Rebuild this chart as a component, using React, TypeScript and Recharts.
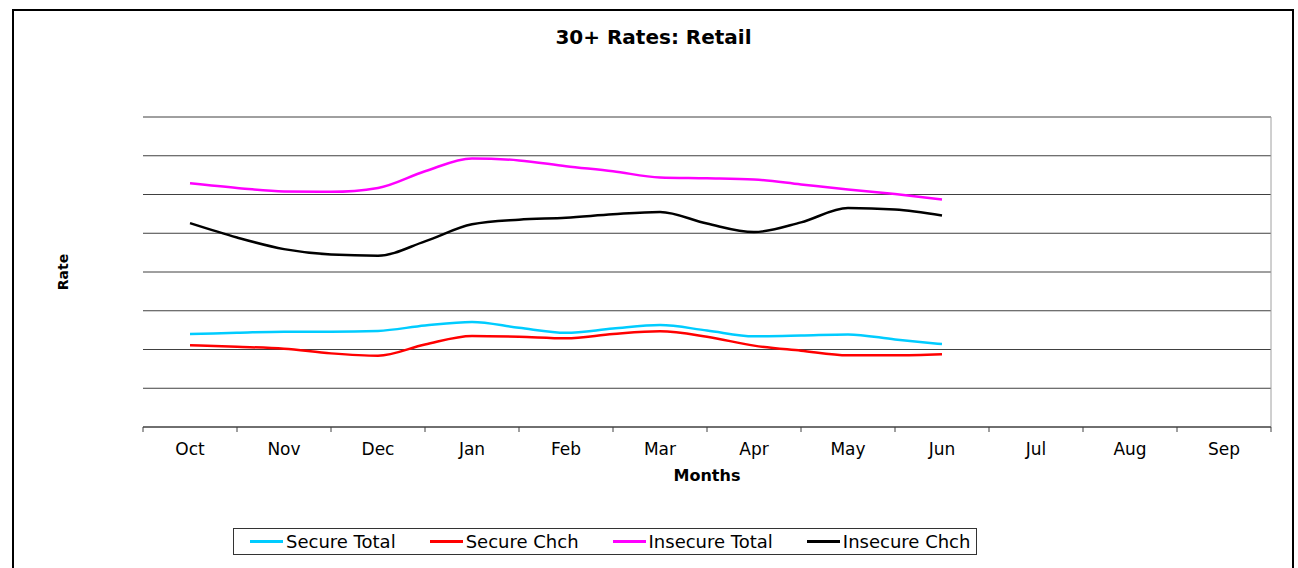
import React from 'react';
import {
  LineChart,
  Line,
  XAxis,
  YAxis,
  CartesianGrid,
  ReferenceLine,
} from 'recharts';

// month categories along the x axis
const months = ['Oct', 'Nov', 'Dec', 'Jan', 'Feb', 'Mar', 'Apr', 'May', 'Jun', 'Jul', 'Aug', 'Sep'];

// readings are taken twice a month: Oct (0.5) up to Jun (8.5)
const periods = [0.5, 1, 1.5, 2, 2.5, 3, 3.5, 4, 4.5, 5, 5.5, 6, 6.5, 7, 7.5, 8, 8.5];

const secureTotal = [2.40, 2.43, 2.46, 2.46, 2.48, 2.62, 2.71, 2.56, 2.43, 2.54, 2.63, 2.49, 2.34, 2.36, 2.39, 2.26, 2.14];
const secureChch = [2.11, 2.07, 2.02, 1.90, 1.84, 2.13, 2.35, 2.33, 2.29, 2.40, 2.47, 2.33, 2.10, 1.97, 1.85, 1.85, 1.88];
const insecureTotal = [6.29, 6.17, 6.08, 6.07, 6.17, 6.60, 6.93, 6.88, 6.73, 6.60, 6.44, 6.42, 6.39, 6.26, 6.13, 6.01, 5.87];
const insecureChch = [5.26, 4.89, 4.59, 4.45, 4.42, 4.79, 5.23, 5.35, 5.40, 5.49, 5.55, 5.25, 5.03, 5.28, 5.65, 5.61, 5.46];

const monthTicks = [0, 1, 2, 3, 4, 5, 6, 7, 8, 9, 10, 11, 12];
const labelTicks = [0.5, 1.5, 2.5, 3.5, 4.5, 5.5, 6.5, 7.5, 8.5, 9.5, 10.5, 11.5];
const rateTicks = [0, 1, 2, 3, 4, 5, 6, 7, 8];

const series = [
  { key: 'secureTotal', name: 'Secure Total', color: '#00ccff' },
  { key: 'secureChch', name: 'Secure Chch', color: '#ff0000' },
  { key: 'insecureTotal', name: 'Insecure Total', color: '#ff00ff' },
  { key: 'insecureChch', name: 'Insecure Chch', color: '#000000' },
];

const data = periods.map((p, i) => ({
  period: p,
  secureTotal: secureTotal[i],
  secureChch: secureChch[i],
  insecureTotal: insecureTotal[i],
  insecureChch: insecureChch[i],
}));

const FONT = '"DejaVu Sans", Verdana, sans-serif';

function ChartLegend() {
  return (
    <div
      style={{
        position: 'absolute',
        left: 233,
        top: 528,
        width: 744,
        height: 27,
        border: '1px solid #333',
        display: 'flex',
        alignItems: 'center',
        paddingLeft: 16,
        boxSizing: 'border-box',
        fontFamily: FONT,
        fontSize: 18,
        color: '#000',
        whiteSpace: 'nowrap',
        overflow: 'hidden',
      }}
    >
      {series.map((s, i) => (
        <div
          key={s.key}
          style={{ display: 'flex', alignItems: 'center', flexShrink: 0, marginLeft: i === 0 ? 0 : 34 }}
        >
          <span style={{ display: 'inline-block', width: 33, height: 3, background: s.color, marginRight: 3 }} />
          <span style={{ lineHeight: '20px' }}>{s.name}</span>
        </div>
      ))}
    </div>
  );
}

export default function App() {
  return (
    <div
      style={{
        position: 'absolute',
        left: 0,
        top: 0,
        width: 1298,
        height: 568,
        overflow: 'hidden',
        background: '#fff',
      }}
    >
      <div
        style={{
          position: 'absolute',
          left: 12,
          top: 9,
          width: 1278,
          height: 700,
          border: '2px solid #000',
        }}
      />
      <div style={{ position: 'absolute', left: 0, top: 0 }}>
        <LineChart
          width={1298}
          height={568}
          data={data}
          margin={{ top: 117, right: 27, bottom: 106, left: 143 }}
        >
          <CartesianGrid vertical={false} stroke="#404040" />
          <XAxis
            xAxisId="grid"
            dataKey="period"
            type="number"
            domain={[0, 12]}
            ticks={monthTicks}
            tickFormatter={() => ''}
            height={5}
            tickSize={5}
            stroke="#404040"
            interval={0}
          />
          <XAxis
            xAxisId="labels"
            dataKey="period"
            type="number"
            domain={[0, 12]}
            ticks={labelTicks}
            tickFormatter={(v: number) => months[Math.floor(v)]}
            height={30}
            axisLine={false}
            tickLine={false}
            tickSize={0}
            tickMargin={11}
            interval={0}
            tick={{ fill: '#000', fontSize: 17, fontFamily: FONT }}
          />
          <YAxis
            type="number"
            domain={[0, 8]}
            ticks={rateTicks}
            width={0}
            tickSize={4}
            tickFormatter={() => ''}
            stroke="#404040"
            interval={0}
          />
          <ReferenceLine xAxisId="grid" x={12} stroke="#a0a0a0" />
          {series.map((s) => (
            <Line
              key={s.key}
              xAxisId="grid"
              type="monotone"
              dataKey={s.key}
              name={s.name}
              stroke={s.color}
              strokeWidth={2.5}
              dot={false}
              isAnimationActive={false}
            />
          ))}
        </LineChart>
      </div>
      <svg
        width={1298}
        height={568}
        style={{ position: 'absolute', left: 0, top: 0, pointerEvents: 'none' }}
      >
        <text x={653.5} y={44} textAnchor="middle" fontFamily={FONT} fontWeight="bold" fontSize={20}>
          30+ Rates: Retail
        </text>
        <text x={707} y={481} textAnchor="middle" fontFamily={FONT} fontWeight="bold" fontSize={16}>
          Months
        </text>
        <text
          x={0}
          y={0}
          transform="translate(68,272) rotate(-90)"
          textAnchor="middle"
          fontFamily={FONT}
          fontWeight="bold"
          fontSize={14}
        >
          Rate
        </text>
      </svg>
      <ChartLegend />
    </div>
  );
}
